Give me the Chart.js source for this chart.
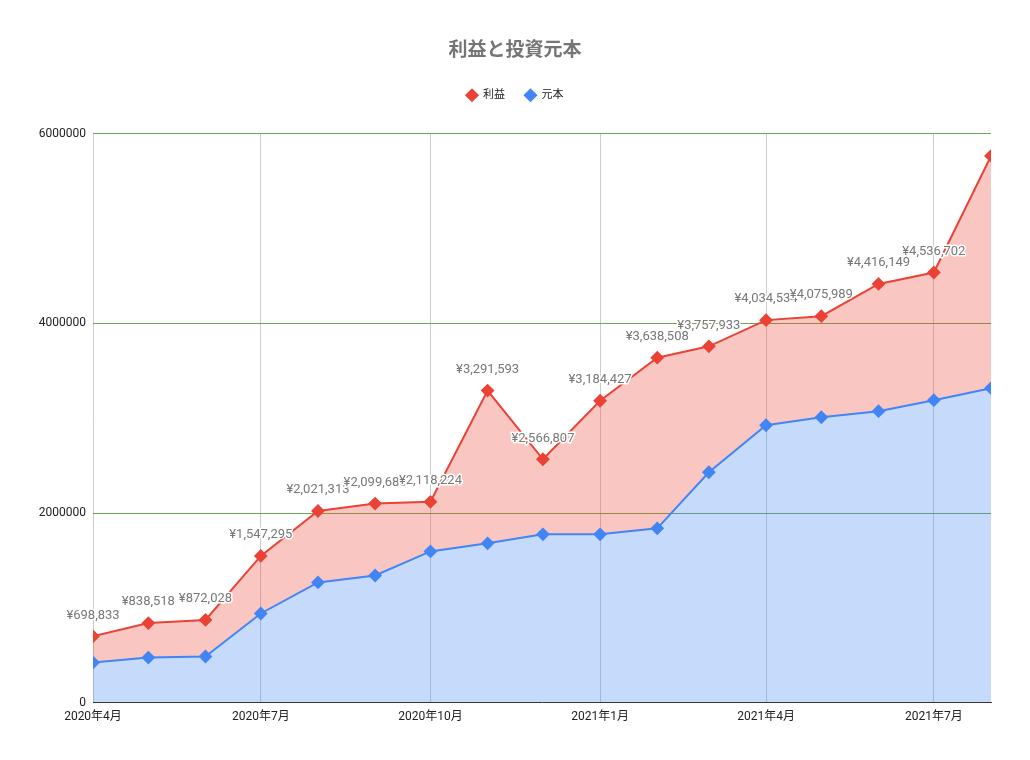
<!DOCTYPE html>
<html>
<head>
<meta charset="utf-8">
<title>利益と投資元本</title>
<script src="https://cdn.jsdelivr.net/npm/chart.js@4.4.1/dist/chart.umd.min.js"></script>
<style>
	body { margin: 0; background: #fff; }
	#wrap { width: 1030px; height: 760px; }
</style>
</head>
<body>
<div id="wrap"><canvas id="myChart" width="1030" height="760"></canvas></div>
<script>
	var months = ["2020-04-01", "2020-05-01", "2020-06-01", "2020-07-01", "2020-08-01", "2020-09-01",
		"2020-10-01", "2020-11-01", "2020-12-01", "2021-01-01", "2021-02-01", "2021-03-01",
		"2021-04-01", "2021-05-01", "2021-06-01", "2021-07-01", "2021-08-01"];

	var profit = [698833, 838518, 872028, 1547295, 2021313, 2099685, 2118224, 3291593, 2566807,
		3184427, 3638508, 3757933, 4034534, 4075989, 4416149, 4536702, 5767000];

	var principal = [423000, 475000, 486000, 940000, 1268000, 1341000, 1595000, 1680000, 1775000,
		1775000, 1838000, 2430000, 2926000, 3010000, 3074000, 3190000, 3317000];

	var tickDates = ["2020-04-01", "2020-07-01", "2020-10-01", "2021-01-01", "2021-04-01", "2021-07-01"];
	var tickLabels = ["2020年4月", "2020年7月", "2020年10月", "2021年1月", "2021年4月", "2021年7月"];

	var yTicks = [0, 2000000, 4000000, 6000000];

	var fontFamily = "Roboto, 'Noto Sans CJK JP', sans-serif";

	// days counted from the first month, so the x axis is spaced like a time axis
	function dayOf(s) {
		return (Date.parse(s + "T00:00:00Z") - Date.parse(months[0] + "T00:00:00Z")) / 86400000;
	}

	var profitPoints = months.map(function(m, i) { return { x: dayOf(m), y: profit[i] }; });
	var principalPoints = months.map(function(m, i) { return { x: dayOf(m), y: principal[i] }; });

	// ¥ labels above the red series
	var valueLabels = {
		id: "valueLabels",
		afterDatasetsDraw: function(chart) {
			var c = chart.ctx;
			var meta = chart.getDatasetMeta(0);
			c.save();
			c.font = "13px " + fontFamily;
			c.textAlign = "center";
			c.textBaseline = "middle";
			c.lineJoin = "round";
			meta.data.forEach(function(pt, i) {
				if (i === meta.data.length - 1) return;
				var txt = "¥" + profit[i].toLocaleString("en-US");
				c.strokeStyle = "#fff";
				c.lineWidth = 3;
				c.strokeText(txt, pt.x, pt.y - 21);
				c.fillStyle = "#777777";
				c.fillText(txt, pt.x, pt.y - 21);
			});
			c.restore();
		}
	};

	// empty axes, only used to leave room around the plot
	function spacer(pos, size) {
		return {
			position: pos,
			display: true,
			grid: { display: false },
			border: { display: false },
			ticks: { display: false },
			afterFit: function(scale) {
				if (pos === "top") scale.height = size;
				else scale.width = size;
			}
		};
	}

	var ctx = document.getElementById("myChart");

	var data = {
		datasets: [
			{
				label: "利益",
				data: profitPoints,
				borderColor: "#ea4335",
				backgroundColor: "rgba(234, 67, 53, 0.3)",
				pointBackgroundColor: "#ea4335",
				pointBorderColor: "#ea4335",
				borderWidth: 2,
				pointStyle: "rectRot",
				pointRadius: 5.5,
				fill: "+1",
				clip: 0,
				order: 2
			},
			{
				label: "元本",
				data: principalPoints,
				borderColor: "#4285f4",
				backgroundColor: "rgba(66, 133, 244, 0.3)",
				pointBackgroundColor: "#4285f4",
				pointBorderColor: "#4285f4",
				borderWidth: 2,
				pointStyle: "rectRot",
				pointRadius: 5.5,
				fill: "origin",
				clip: 0,
				order: 1
			}
		]
	};

	var options = {
		responsive: false,
		animation: false,
		devicePixelRatio: 1,
		layout: {
			padding: { left: 0, right: 0, top: 0, bottom: 29 }
		},
		plugins: {
			title: {
				display: true,
				text: "利益と投資元本",
				color: "#757575",
				font: { family: fontFamily, size: 19, weight: "bold" },
				padding: { top: 40, bottom: 7 }
			},
			legend: {
				labels: {
					usePointStyle: true,
					pointStyle: "rectRot",
					boxWidth: 18,
					boxHeight: 10,
					color: "#222",
					padding: 20,
					font: { family: fontFamily, size: 11 },
					generateLabels: function(chart) {
						return chart.data.datasets.map(function(ds, i) {
							return {
								text: ds.label,
								fillStyle: ds.borderColor,
								strokeStyle: ds.borderColor,
								lineWidth: 0,
								pointStyle: "rectRot",
								fontColor: "#222",
								datasetIndex: i
							};
						});
					}
				}
			},
			tooltip: { enabled: false }
		},
		scales: {
			x: {
				type: "linear",
				min: 0,
				max: dayOf(months[months.length - 1]),
				afterBuildTicks: function(scale) {
					scale.ticks = tickDates.map(function(d) { return { value: dayOf(d) }; });
				},
				ticks: {
					color: "#222",
					font: { family: fontFamily, size: 12 },
					padding: 7,
					maxRotation: 0,
					autoSkip: false,
					callback: function(v) {
						var i = tickDates.map(dayOf).indexOf(v);
						return i >= 0 ? tickLabels[i] : "";
					}
				},
				grid: { color: "#cccccc", drawTicks: false },
				border: { display: true, color: "#333333", width: 1 }
			},
			y: {
				min: 0,
				max: 6000000,
				afterBuildTicks: function(scale) {
					scale.ticks = yTicks.map(function(v) { return { value: v }; });
				},
				afterFit: function(scale) {
					scale.width = 93;
				},
				ticks: {
					color: "#222",
					font: { family: fontFamily, size: 12 },
					padding: 7,
					callback: function(v) { return String(v); }
				},
				grid: {
					drawTicks: false,
					color: function(c) { return c.tick && c.tick.value === 0 ? "rgba(0,0,0,0)" : "#6aa84f"; }
				},
				border: { display: false }
			},
			padTop: spacer("top", 23),
			padRight: spacer("right", 39)
		}
	};

	var myChart = new Chart(ctx, {
		type: "line",
		data: data,
		options: options,
		plugins: [valueLabels]
	});
</script>
</body>
</html>
